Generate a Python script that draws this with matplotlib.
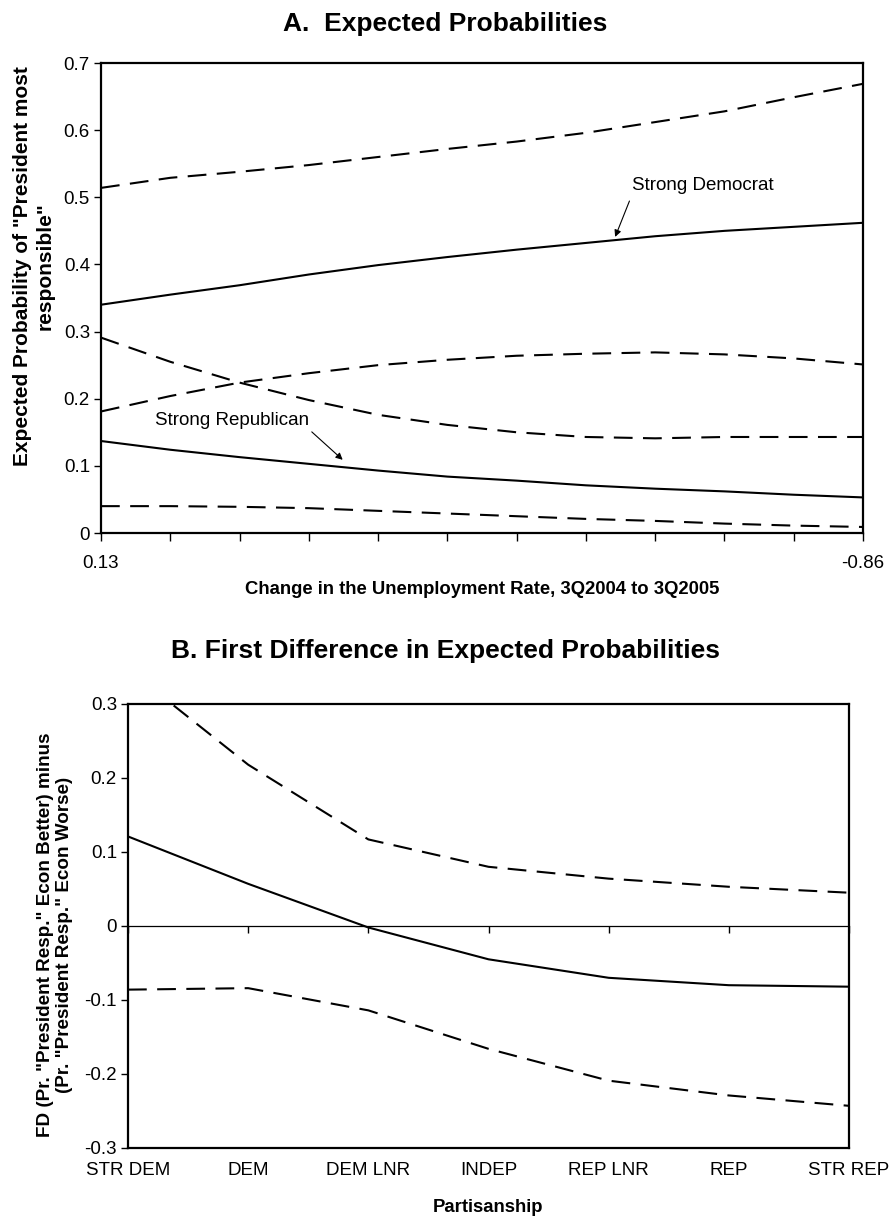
import matplotlib.pyplot as plt

plt.rcParams['font.family'] = ['Liberation Sans', 'DejaVu Sans']

# Panel A: change in unemployment rate (x) and expected probabilities
unemp_change = [0.13, 0.04, -0.05, -0.14, -0.23, -0.32, -0.41, -0.50, -0.59, -0.68, -0.77, -0.86]
dem_mean = [0.340, 0.355, 0.369, 0.385, 0.399, 0.411, 0.422, 0.432, 0.442, 0.450, 0.456, 0.462]
dem_upper = [0.514, 0.529, 0.538, 0.548, 0.560, 0.572, 0.583, 0.596, 0.612, 0.628, 0.649, 0.669]
dem_lower = [0.181, 0.204, 0.224, 0.238, 0.250, 0.258, 0.264, 0.267, 0.269, 0.266, 0.260, 0.251]
rep_mean = [0.137, 0.124, 0.113, 0.103, 0.093, 0.084, 0.078, 0.071, 0.066, 0.062, 0.057, 0.053]
rep_upper = [0.291, 0.255, 0.224, 0.198, 0.176, 0.161, 0.150, 0.143, 0.141, 0.143, 0.143, 0.143]
rep_lower = [0.040, 0.040, 0.039, 0.037, 0.033, 0.029, 0.025, 0.021, 0.018, 0.014, 0.011, 0.009]

# Panel B: first differences by partisanship
partisanship = ["STR DEM", "DEM", "DEM LNR", "INDEP", "REP LNR", "REP", "STR REP"]
fd_mean = [0.121, 0.057, -0.002, -0.045, -0.070, -0.080, -0.082]
fd_upper = [0.347, 0.218, 0.117, 0.080, 0.064, 0.053, 0.045]
fd_lower = [-0.086, -0.084, -0.114, -0.166, -0.209, -0.229, -0.243]

W, H = 891, 1218
fig = plt.figure(figsize=(W / 100, H / 100), dpi=100)


def box(left, top, right, bottom):
    return [left / W, 1 - bottom / H, (right - left) / W, (bottom - top) / H]


def fx(x):
    return x / W


def fy(y):
    return 1 - y / H


dash = (0, (9, 5))
tick_fs = 13.5
label_fs = 13.3
title_fs = 19
note_fs = 13.5

# -------------------------
# Panel A
# -------------------------
axA = fig.add_axes(box(101, 63, 863, 533))
for ys, ls in [(dem_upper, dash), (dem_mean, '-'), (dem_lower, dash),
               (rep_upper, dash), (rep_mean, '-'), (rep_lower, dash)]:
    axA.plot(unemp_change, ys, color='black', lw=1.5, linestyle=ls)

axA.set_xlim(unemp_change[0], unemp_change[-1])
axA.set_ylim(0, 0.7)
axA.set_yticks([i / 10 for i in range(8)],
               ['0'] + [f'{i / 10:.1f}' for i in range(1, 8)])
xlabels = [''] * len(unemp_change)
xlabels[0] = f'{unemp_change[0]:.2f}'
xlabels[-1] = f'{unemp_change[-1]:.2f}'
axA.set_xticks(unemp_change, xlabels)
axA.tick_params(axis='y', direction='out', length=5, width=1, pad=3, labelsize=tick_fs)
axA.tick_params(axis='x', direction='out', length=6, width=1, pad=10, labelsize=tick_fs)
for s in axA.spines.values():
    s.set_linewidth(1.6)

axA.annotate('Strong Democrat', xy=(-0.538, 0.441), xytext=(-0.56, 0.517),
             fontsize=note_fs, ha='left', va='center',
             arrowprops=dict(arrowstyle='-|>', lw=0.8, color='black',
                             mutation_scale=10, shrinkA=3, shrinkB=0,
                             relpos=(0.0, 0.0)))
axA.annotate('Strong Republican', xy=(-0.184, 0.109), xytext=(0.06, 0.167),
             fontsize=note_fs, ha='left', va='center',
             arrowprops=dict(arrowstyle='-|>', lw=0.8, color='black',
                             mutation_scale=10, shrinkA=0, shrinkB=0,
                             relpos=(1.0, 0.0)))

fig.text(0.5, fy(24), 'A.  Expected Probabilities', ha='center', va='center',
         fontsize=title_fs, fontweight='bold')
fig.text(fx(482), fy(589), 'Change in the Unemployment Rate, 3Q2004 to 3Q2005',
         ha='center', va='center', fontsize=label_fs, fontweight='bold')
fig.text(fx(34), fy(266), 'Expected Probability of "President most\nresponsible"',
         ha='center', va='center', rotation=90, fontsize=15,
         fontweight='bold', linespacing=1.2)

# -------------------------
# Panel B
# -------------------------
axB = fig.add_axes(box(128, 704, 849, 1148))
pos = list(range(len(partisanship)))
axB.plot(pos, fd_upper, color='black', lw=1.5, linestyle=dash)
axB.plot(pos, fd_mean, color='black', lw=1.5)
axB.plot(pos, fd_lower, color='black', lw=1.5, linestyle=dash)

axB.set_xlim(0, len(partisanship) - 1)
axB.set_ylim(-0.3, 0.3)
yt = [-0.3, -0.2, -0.1, 0, 0.1, 0.2, 0.3]
axB.set_yticks(yt, ['0' if v == 0 else f'{v:.1f}' for v in yt])
axB.tick_params(axis='y', direction='out', length=5, width=1, pad=3, labelsize=tick_fs)

# category axis crosses at zero, labels stay at the bottom
axB.spines['bottom'].set_position(('data', 0))
axB.spines['bottom'].set_linewidth(0.9)
axB.set_xticks(pos)
axB.tick_params(axis='x', direction='out', length=5, width=1, labelbottom=False)
for side in ['top', 'left', 'right']:
    axB.spines[side].set_linewidth(1.6)

sec = axB.secondary_xaxis(0)
sec.set_xticks(pos, partisanship)
sec.tick_params(length=0, pad=10, labelsize=tick_fs)
sec.spines['bottom'].set_linewidth(1.6)

fig.text(0.5, fy(651), 'B. First Difference in Expected Probabilities',
         ha='center', va='center', fontsize=title_fs, fontweight='bold')
fig.text(fx(488), fy(1208), 'Partisanship', ha='center', va='center',
         fontsize=label_fs, fontweight='bold')
fig.text(fx(55), fy(935),
         'FD (Pr. "President Resp." Econ Better) minus\n(Pr. "President Resp." Econ Worse)',
         ha='center', va='center', rotation=90, fontsize=13.6,
         fontweight='bold', linespacing=1.2)

fig.savefig('out.png', dpi=100)
